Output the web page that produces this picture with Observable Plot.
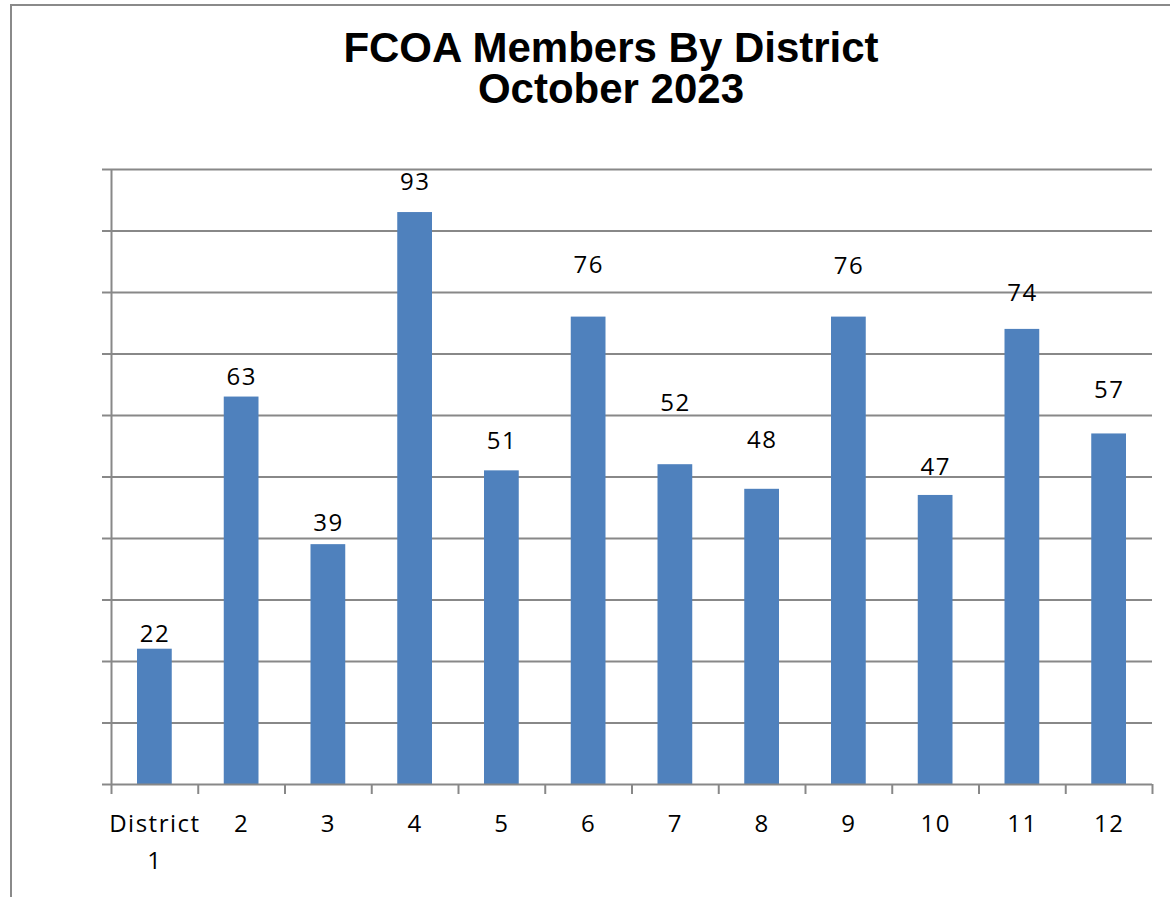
<!DOCTYPE html>
<html><head><meta charset="utf-8">
<script src="https://cdn.jsdelivr.net/npm/d3@7"></script>
<script src="https://cdn.jsdelivr.net/npm/@observablehq/plot@0.6"></script>
<style>
html,body{margin:0;padding:0;background:#fff;overflow:hidden;}
#wrap{position:relative;width:1170px;height:897px;overflow:hidden;}
#frame{position:absolute;left:10px;top:4px;width:1300px;height:1000px;border-left:2px solid #8a8a8a;border-top:2px solid #8a8a8a;box-sizing:border-box;}
.title{position:absolute;left:10px;width:1202px;height:41px;text-align:center;font-family:"Liberation Sans",Arial,sans-serif;font-weight:bold;font-size:42px;line-height:41px;color:#000;white-space:nowrap;}
#t1{top:27px;}
#t2{top:68px;}
#chart{position:absolute;left:0;top:0;}
#chart svg text{letter-spacing:1.5px;}
</style></head>
<body>
<div id="wrap">
  <div id="frame"></div>
  <div id="chart"></div>
  <div class="title" id="t1">FCOA Members By District</div>
  <div class="title" id="t2">October 2023</div>
</div>
<script>
// Data
const districts = ["District\n1", "2", "3", "4", "5", "6", "7", "8", "9", "10", "11", "12"];
const members = [22, 63, 39, 93, 51, 76, 52, 48, 76, 47, 74, 57];
// Heights (in member units) at which the value labels sit in the original
const labelHeights = [24.4, 66.2, 42.4, 97.9, 55.8, 84.4, 62.0, 55.9, 84.2, 51.5, 79.8, 64.1];
const yTicks = [0, 10, 20, 30, 40, 50, 60, 70, 80, 90, 100];

const data = districts.map((d, i) => ({i, label: d, value: members[i], ly: labelHeights[i]}));
const gridColor = "#888888";

const chart = Plot.plot({
  width: 1170,
  height: 897,
  marginLeft: 111,
  marginRight: 18,
  marginTop: 169,
  marginBottom: 113,
  style: {fontFamily: "'Open Sans', sans-serif", fontSize: "24px", color: "#000", background: "transparent"},
  x: {domain: [0, districts.length], axis: null},
  y: {domain: [0, 100], axis: null},
  marks: [
    Plot.gridY(yTicks.slice(1), {stroke: gridColor, strokeOpacity: 1, strokeWidth: 2}),
    Plot.axisY(yTicks, {tickSize: 9, tickFormat: () => "", stroke: gridColor, strokeWidth: 2, strokeOpacity: 1}),
    Plot.axisX(d3.range(0, districts.length + 1), {tickSize: 10, tickFormat: () => "", stroke: gridColor, strokeWidth: 2, strokeOpacity: 1}),
    Plot.rectY(data, {x1: d => d.i, x2: d => d.i + 1, y: "value", fill: "#4F81BD", insetLeft: 26, insetRight: 26}),
    Plot.ruleX([0], {stroke: gridColor, strokeWidth: 2}),
    Plot.ruleY([0], {stroke: gridColor, strokeWidth: 2}),
    Plot.text(data, {x: d => d.i + 0.5, y: "ly", text: d => String(d.value), fill: "#000", fontSize: 24}),
    Plot.text(data, {x: d => d.i + 0.5, y: 0, text: "label", dy: 21, lineAnchor: "top", lineHeight: 1.54, fill: "#000", fontSize: 24})
  ]
});
document.getElementById("chart").appendChild(chart);
</script>
</body></html>
